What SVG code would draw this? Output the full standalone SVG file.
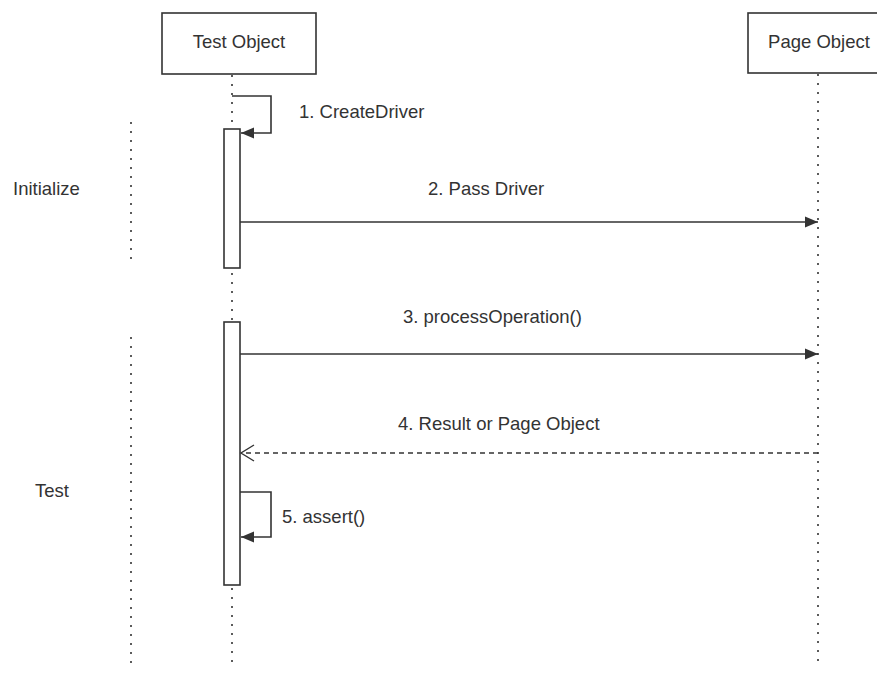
<svg xmlns="http://www.w3.org/2000/svg" width="877" height="673" viewBox="0 0 877 673">
  <style>
    .box { fill: #fff; stroke: #333; stroke-width: 1.6; }
    .life { fill: none; stroke: #333; stroke-width: 1.6; stroke-dasharray: 2 7; }
    .msg { fill: none; stroke: #333; stroke-width: 1.6; }
    .ret { fill: none; stroke: #333; stroke-width: 1.4; stroke-dasharray: 5 4; }
    .lbl { font-family: "Liberation Sans", Arial, sans-serif; font-size: 18.5px; fill: #333; }
    .mid { text-anchor: middle; }
  </style>
  <defs>
    <marker id="solid" markerWidth="14" markerHeight="12" refX="13" refY="6" orient="auto" markerUnits="userSpaceOnUse">
      <path d="M0,0.5 L13,6 L0,11.5 Z" fill="#333"/>
    </marker>
    <marker id="open" markerWidth="16" markerHeight="18" refX="14" refY="9" orient="auto" markerUnits="userSpaceOnUse">
      <path d="M1,1 L14,9 L1,17" fill="none" stroke="#333" stroke-width="1.4"/>
    </marker>
  </defs>

  <!-- phase dividers -->
  <g id="phases">
    <line class="life" x1="131" y1="122" x2="131" y2="262"/>
    <text class="lbl" x="13" y="195">Initialize</text>
    <line class="life" x1="131" y1="337" x2="131" y2="668"/>
    <text class="lbl" x="35" y="497">Test</text>
  </g>

  <!-- participants -->
  <g id="test-object">
    <line class="life" x1="232" y1="75" x2="232" y2="668"/>
    <rect class="box" x="162" y="13" width="154" height="61"/>
    <text class="lbl mid" x="239" y="48">Test Object</text>
  </g>
  <g id="page-object">
    <line class="life" x1="818" y1="74" x2="818" y2="662"/>
    <rect class="box" x="748" y="13" width="142" height="60"/>
    <text class="lbl mid" x="819" y="48">Page Object</text>
  </g>

  <!-- activations -->
  <g id="activation-init">
    <rect class="box" x="224" y="129" width="16" height="139"/>
  </g>
  <g id="activation-test">
    <rect class="box" x="224" y="322" width="16" height="263"/>
  </g>

  <!-- messages -->
  <g id="connectors">
    <path class="msg" d="M232,96 H271 V133 H241" marker-end="url(#solid)"/>
    <line class="msg" x1="240" y1="222" x2="818" y2="222" marker-end="url(#solid)"/>
    <line class="msg" x1="240" y1="354" x2="818" y2="354" marker-end="url(#solid)"/>
    <line class="ret" x1="818" y1="453" x2="241" y2="453" marker-end="url(#open)"/>
    <path class="msg" d="M240,492 H271 V537 H241" marker-end="url(#solid)"/>
  </g>

  <g id="labels">
    <text class="lbl" x="299" y="118">1. CreateDriver</text>
    <text class="lbl" x="428" y="195">2. Pass Driver</text>
    <text class="lbl" x="403" y="323">3. processOperation()</text>
    <text class="lbl" x="398" y="430">4. Result or Page Object</text>
    <text class="lbl" x="282" y="523">5. assert()</text>
  </g>
</svg>
